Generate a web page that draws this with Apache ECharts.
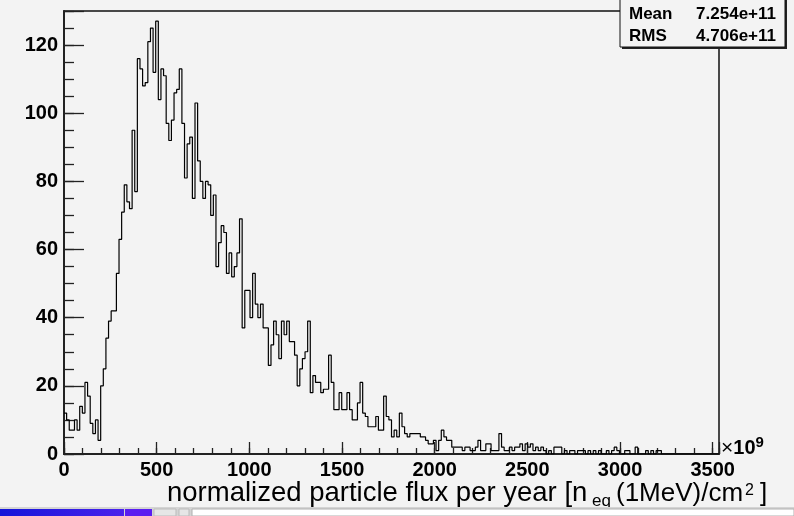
<!DOCTYPE html>
<html>
<head>
<meta charset="utf-8">
<script src="https://cdn.jsdelivr.net/npm/echarts@6/dist/echarts.min.js"></script>
<style>
  html, body { margin: 0; padding: 0; background: #f3f3f3; }
  #chart { width: 794px; height: 516px; }
</style>
</head>
<body>
<div id="chart"></div>
<script>
// Histogram range along x, in units of 1e9 n_eq/cm^2 per year
const histMin = 0;
const histMax = 3534;

// Entries per bin (250 equal-width bins from histMin to histMax)
const counts = [
  12, 10, 7, 7, 10, 7, 14, 12, 21, 17,
  9, 6, 10, 4, 20, 25, 34, 39, 42, 42,
  53, 63, 71, 79, 74, 72, 95, 77, 116, 113,
  108, 109, 121, 125, 112, 127, 104, 113, 111, 97,
  92, 98, 106, 107, 113, 97, 81, 91, 93, 75,
  103, 86, 80, 75, 80, 79, 70, 76, 55, 62,
  67, 65, 53, 59, 52, 55, 59, 69, 37, 48,
  48, 40, 53, 44, 40, 44, 37, 37, 26, 32,
  39, 35, 28, 39, 35, 39, 33, 33, 29, 20,
  25, 28, 30, 39, 18, 23, 21, 21, 18, 19,
  19, 29, 21, 13, 13, 18, 13, 13, 18, 13,
  10, 10, 15, 21, 12, 11, 8, 8, 8, 11,
  7, 7, 17, 11, 10, 5, 7, 5, 12, 8,
  6, 5, 6, 6, 6, 6, 5, 5, 4, 3,
  3, 4, 1, 4, 7, 5, 4, 4, 2, 2,
  2, 2, 1, 2, 2, 1, 1, 2, 4, 1,
  1, 3, 3, 1, 1, 1, 6, 2, 1, 1,
  2, 1, 2, 2, 3, 1, 3, 2, 3, 1,
  2, 1, 2, 1, 0, 1, 0, 2, 2, 2,
  0, 1, 0, 1, 1, 0, 1, 1, 1, 0,
  1, 0, 1, 0, 1, 0, 0, 1, 0, 1,
  2, 1, 0, 0, 1, 1, 0, 0, 2, 0,
  0, 0, 1, 0, 1, 0, 1, 1, 0, 0,
  0, 0, 0, 0, 0, 0, 0, 0, 0, 0,
  0, 0, 0, 0, 0, 0, 0, 0, 0, 0
];

// Axis settings
const yMax = 130;
const xMajorStep = 500;
const xMinorStep = 100;
const yMajorStep = 20;
const yMinorStep = 5;

// Statistics box
const statNames = ['Mean', 'RMS'];
const statValues = ['7.254e+11', '4.706e+11'];

// Texts
const xTitleParts = ['normalized particle flux per year [n', 'eq', '(1MeV)/cm', '2', ']'];
const xScaleParts = ['\u00d7', '10', '9'];

const FONT = '"Liberation Sans", Arial, Helvetica, sans-serif';

// Step outline: each bin starts at its left edge; the last point closes the final bin
const binWidth = (histMax - histMin) / counts.length;
const outline = counts.map((c, i) => [histMin + i * binWidth, c]);
outline.push([histMax, counts[counts.length - 1]]);

const chart = echarts.init(document.getElementById('chart'), null, { renderer: 'canvas' });

const labelFont = { fontFamily: FONT, fontWeight: 'bold', fontSize: 20, color: '#000' };

function titleText(str, x, y, size) {
  return {
    type: 'text', x: x, y: y, z: 12,
    style: { text: str, font: size + 'px ' + FONT, fill: '#000', align: 'left', verticalAlign: 'middle' }
  };
}

chart.setOption({
  animation: false,
  backgroundColor: '#f3f3f3',
  grid: {
    left: 64, top: 11, width: 655, height: 443,
    show: true, borderColor: '#111', borderWidth: 1.5, backgroundColor: 'transparent',
    outerBoundsMode: 'none'
  },
  xAxis: [
    {
      type: 'value', min: histMin, max: histMax, interval: xMajorStep, position: 'bottom',
      axisLine: { show: true, onZero: false, lineStyle: { color: '#222', width: 2 } },
      axisTick: { show: true, inside: true, length: 12, lineStyle: { color: '#222', width: 1.3 } },
      axisLabel: Object.assign({ margin: 6, formatter: v => (v % xMajorStep === 0 ? String(v) : '') }, labelFont),
      splitLine: { show: false }
    },
    {
      type: 'value', min: histMin, max: histMax, interval: xMinorStep, position: 'bottom',
      axisLine: { show: false },
      axisTick: { show: true, inside: true, length: 6, lineStyle: { color: '#222', width: 1.3 } },
      axisLabel: { show: false },
      splitLine: { show: false }
    }
  ],
  yAxis: [
    {
      type: 'value', min: 0, max: yMax, interval: yMajorStep, position: 'left',
      axisLine: { show: true, onZero: false, lineStyle: { color: '#222', width: 2 } },
      axisTick: { show: true, inside: true, length: 20, lineStyle: { color: '#222', width: 1.3 } },
      axisLabel: Object.assign({ margin: 6, formatter: v => (v % yMajorStep === 0 ? String(v) : '') }, labelFont),
      splitLine: { show: false }
    },
    {
      type: 'value', min: 0, max: yMax, interval: yMinorStep, position: 'left',
      axisLine: { show: false },
      axisTick: { show: true, inside: true, length: 10, lineStyle: { color: '#222', width: 1.3 } },
      axisLabel: { show: false },
      splitLine: { show: false }
    }
  ],
  series: [
    {
      type: 'line', xAxisIndex: 0, yAxisIndex: 0,
      step: 'end', data: outline,
      showSymbol: false, symbol: 'none',
      lineStyle: { color: '#000', width: 1.2 },
      z: 3
    }
  ],
  graphic: [
    // statistics box with its shadow
    { type: 'rect', shape: { x: 622, y: -10, width: 165, height: 59 }, style: { fill: '#222' }, z: 10 },
    { type: 'rect', shape: { x: 620, y: -12, width: 165, height: 59 }, style: { fill: '#f3f3f3', stroke: '#111', lineWidth: 1 }, z: 11 },
    { type: 'text', x: 629, y: 14.5, z: 12, style: { text: statNames[0], font: 'bold 17px ' + FONT, fill: '#000', verticalAlign: 'middle', align: 'left' } },
    { type: 'text', x: 776, y: 14.5, z: 12, style: { text: statValues[0], font: 'bold 17px ' + FONT, fill: '#000', verticalAlign: 'middle', align: 'right' } },
    { type: 'text', x: 629, y: 36, z: 12, style: { text: statNames[1], font: 'bold 17px ' + FONT, fill: '#000', verticalAlign: 'middle', align: 'left' } },
    { type: 'text', x: 776, y: 36, z: 12, style: { text: statValues[1], font: 'bold 17px ' + FONT, fill: '#000', verticalAlign: 'middle', align: 'right' } },
    // axis scale factor
    {
      type: 'text', left: 721, top: 435, z: 12,
      style: {
        text: '{x|' + xScaleParts[0] + '}{b|' + xScaleParts[1] + '}{p|' + xScaleParts[2] + '}',
        fill: '#000',
        rich: {
          x: { fontFamily: FONT, fontSize: 21, lineHeight: 26, fill: '#000' },
          b: { fontFamily: FONT, fontWeight: 'bold', fontSize: 20, lineHeight: 26, fill: '#000' },
          p: { fontFamily: FONT, fontWeight: 'bold', fontSize: 15, lineHeight: 10, verticalAlign: 'top', fill: '#000' }
        }
      }
    },
    // x axis title, with subscript and superscript pieces
    titleText(xTitleParts[0], 167, 493.6, 27.5),
    titleText(xTitleParts[1], 592, 501.6, 17),
    titleText(xTitleParts[2], 616, 494, 26),
    titleText(xTitleParts[3], 745, 490.4, 16),
    titleText(xTitleParts[4], 760, 494, 26),
    // window status strip along the bottom edge
    { type: 'rect', shape: { x: 0, y: 507, width: 794, height: 9 }, style: { fill: '#d4d4d4' }, z: 20 },
    { type: 'rect', shape: { x: 0, y: 509, width: 124, height: 7 },
      style: { fill: new echarts.graphic.LinearGradient(0, 0, 1, 0, [{ offset: 0, color: '#1414d8' }, { offset: 1, color: '#4a22ec' }]) }, z: 21 },
    { type: 'rect', shape: { x: 125, y: 509, width: 27, height: 7 }, style: { fill: '#5a1ef0' }, z: 21 },
    { type: 'rect', shape: { x: 154, y: 509, width: 22, height: 7 }, style: { fill: '#e6e6e6', stroke: '#bbb', lineWidth: 1 }, z: 21 },
    { type: 'rect', shape: { x: 179, y: 509, width: 10, height: 7 }, style: { fill: '#e6e6e6', stroke: '#bbb', lineWidth: 1 }, z: 21 },
    { type: 'rect', shape: { x: 192, y: 509, width: 602, height: 7 }, style: { fill: '#ffffff', stroke: '#b0b0b0', lineWidth: 1 }, z: 21 }
  ]
});
</script>
</body>
</html>
